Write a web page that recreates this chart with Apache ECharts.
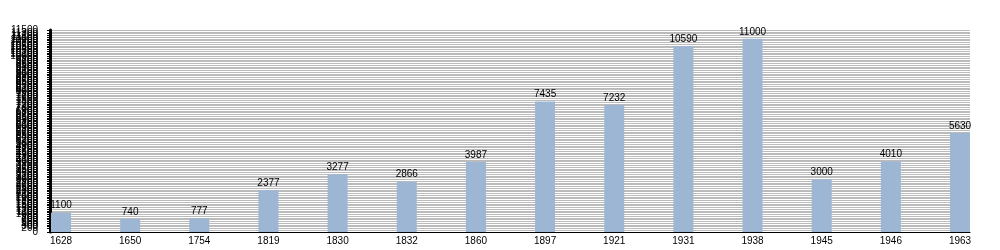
<!DOCTYPE html>
<html>
<head>
<meta charset="utf-8">
<script src="https://cdn.jsdelivr.net/npm/echarts@6/dist/echarts.min.js"></script>
<style>html,body{margin:0;padding:0;background:#fff}#c{width:1000px;height:250px}</style>
</head>
<body>
<div id="c"></div>
<script>
var years = ['1628','1650','1754','1819','1830','1832','1860','1897','1921','1931','1938','1945','1946','1963'];
var population = [1100, 740, 777, 2377, 3277, 2866, 3987, 7435, 7232, 10590, 11000, 3000, 4010, 5630];
var yMin = 0, yMax = 11500, yStep = 100;

var chart = echarts.init(document.getElementById('c'), null, {renderer: 'canvas'});
chart.setOption({
  animation: false,
  backgroundColor: '#ffffff',
  textStyle: {fontFamily: 'Liberation Sans, Arial, sans-serif'},
  grid: [
    {left: 50, right: 30, top: 30, bottom: 18},
    {left: 61, right: 40, top: 30, bottom: 18}
  ],
  xAxis: [
    {gridIndex: 0, type: 'value', min: 0, max: 1, axisLine: {show: true, lineStyle: {color: '#000', width: 1}},
     axisTick: {show: false}, axisLabel: {show: false}, splitLine: {show: false}},
    {gridIndex: 1, type: 'category', data: years, boundaryGap: false,
     axisLine: {show: false}, axisTick: {show: false}, splitLine: {show: false},
     axisLabel: {color: '#000', fontSize: 10, margin: 4, interval: 0, fontFamily: 'Liberation Sans, Arial, sans-serif'}}
  ],
  yAxis: [
    {gridIndex: 0, type: 'value', min: yMin, max: yMax, interval: yStep,
     axisLine: {show: true, lineStyle: {color: '#000', width: 3}},
     axisTick: {show: true, length: 3, lineStyle: {color: '#000', width: 1}},
     axisLabel: {color: '#000', fontSize: 10, margin: 12, showMinLabel: true, showMaxLabel: true,
                 formatter: function (v) { return String(v); },
                 fontFamily: 'Liberation Sans, Arial, sans-serif'},
     splitLine: {show: true, lineStyle: {color: '#bbbbbb', width: 1}}},
    {gridIndex: 1, type: 'value', min: yMin, max: yMax, show: false, splitLine: {show: false}}
  ],
  series: [{
    type: 'bar',
    xAxisIndex: 1,
    yAxisIndex: 1,
    data: population,
    barWidth: 20,
    clip: false,
    itemStyle: {color: '#9db6d3'},
    label: {show: true, position: 'top', distance: 2, color: '#000', fontSize: 10,
            fontFamily: 'Liberation Sans, Arial, sans-serif'}
  }]
});
</script>
</body>
</html>
